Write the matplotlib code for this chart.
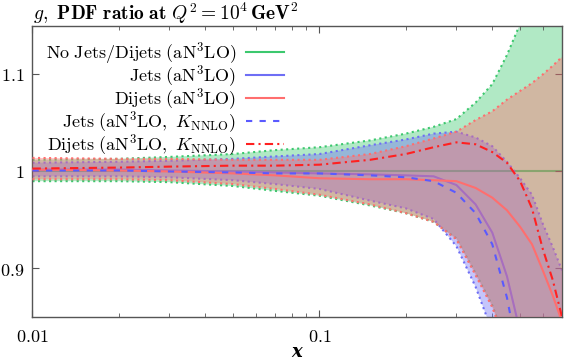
import matplotlib
matplotlib.use("Agg")
import matplotlib.pyplot as plt
from matplotlib.ticker import FixedLocator, NullFormatter

plt.rcParams['mathtext.fontset'] = 'cm'
plt.rcParams['font.size'] = 13

# x grid (log scale)
x = [0.01, 0.02, 0.03, 0.05, 0.07, 0.1, 0.15, 0.2, 0.25, 0.3, 0.35, 0.4,
     0.45, 0.5, 0.55, 0.6, 0.65, 0.7]

# No Jets/Dijets band (central = 1)
nojet_up = [1.012, 1.013, 1.015, 1.018, 1.022, 1.025, 1.032, 1.039, 1.046, 1.054,
            1.071, 1.090, 1.120, 1.152, 1.22, 1.30, 1.38, 1.45]
nojet_lo = [0.990, 0.990, 0.989, 0.985, 0.980, 0.975, 0.965, 0.957, 0.948, 0.931,
            0.895, 0.862, 0.822, 0.772, 0.72, 0.66, 0.60, 0.54]
nojet_c = [1.0] * len(x)

# Jets band
jets_up = [1.009, 1.010, 1.011, 1.013, 1.0155, 1.018, 1.027, 1.033, 1.039, 1.041,
           1.035, 1.026, 1.010, 0.993, 0.976, 0.946, 0.922, 0.898]
jets_lo = [0.995, 0.995, 0.994, 0.991, 0.987, 0.982, 0.970, 0.962, 0.951, 0.923,
           0.881, 0.835, 0.78, 0.72, 0.66, 0.60, 0.54, 0.48]
jets_c = [1.002, 1.002, 1.001, 1.000, 0.999, 0.998, 0.997, 0.996, 0.995, 0.986,
          0.966, 0.937, 0.892, 0.835, 0.77, 0.70, 0.63, 0.56]
jets_k = [1.001, 1.001, 1.000, 0.999, 0.998, 0.998, 0.996, 0.994, 0.990, 0.978,
          0.957, 0.925, 0.870, 0.80, 0.73, 0.66, 0.59, 0.52]

# Dijets band
dij_up = [1.014, 1.013, 1.013, 1.012, 1.012, 1.012, 1.018, 1.026, 1.034, 1.041,
          1.053, 1.062, 1.074, 1.083, 1.091, 1.100, 1.109, 1.118]
dij_lo = [0.992, 0.992, 0.991, 0.987, 0.982, 0.976, 0.966, 0.957, 0.948, 0.930,
          0.893, 0.860, 0.820, 0.770, 0.72, 0.66, 0.60, 0.54]
dij_c = [1.002, 1.001, 1.000, 0.998, 0.996, 0.993, 0.992, 0.992, 0.991, 0.990,
         0.983, 0.973, 0.960, 0.943, 0.925, 0.898, 0.872, 0.845]
dij_k = [1.003, 1.004, 1.005, 1.006, 1.006, 1.007, 1.012, 1.018, 1.025, 1.030,
         1.028, 1.020, 1.009, 0.990, 0.962, 0.920, 0.888, 0.850]

green = '#3cc86e'
blue = '#6e6ef5'
red = '#ff6e6e'

fig = plt.figure(figsize=(5.64, 3.6), dpi=100)
ax = fig.add_axes([0.0576, 0.1194, 0.9389, 0.8086])

ax.plot(x, nojet_c, color=green, lw=1.5, zorder=1)
ax.fill_between(x, nojet_lo, nojet_up, color=green, alpha=0.4, lw=0, zorder=1)
ax.plot(x, nojet_up, color=green, lw=1.5, ls=':', zorder=1)
ax.plot(x, nojet_lo, color=green, lw=1.5, ls=':', zorder=1)

ax.plot(x, jets_c, color=blue, lw=1.5, zorder=2)
ax.fill_between(x, jets_lo, jets_up, color=blue, alpha=0.4, lw=0, zorder=2)
ax.plot(x, jets_up, color=blue, lw=1.5, ls=':', zorder=2)
ax.plot(x, jets_lo, color=blue, lw=1.5, ls=':', zorder=2)

ax.fill_between(x, dij_lo, dij_up, color=red, alpha=0.4, lw=0, zorder=3)
ax.plot(x, dij_up, color=red, lw=1.5, ls=':', zorder=3)
ax.plot(x, dij_lo, color=red, lw=1.5, ls=':', zorder=3)
ax.plot(x, dij_c, color=red, lw=1.5, zorder=3)

ax.plot(x, jets_k, color='#5a5aff', lw=1.5, ls=(0, (3, 3.5)), zorder=4)
ax.plot(x, dij_k, color='#ff2020', lw=1.5, ls=(0, (4, 2, 1, 2)), zorder=4)

# legend handles
h1, = ax.plot([], [], color=green, lw=1.5)
h2, = ax.plot([], [], color=blue, lw=1.5)
h3, = ax.plot([], [], color=red, lw=1.5)
h4, = ax.plot([], [], color='#5a5aff', lw=1.5, ls=(0, (3, 3.5)))
h5, = ax.plot([], [], color='#ff2020', lw=1.5, ls=(0, (4, 2, 1, 2)))
labels = [r'$\mathrm{No\ Jets/Dijets\ (aN^3LO)}$',
          r'$\mathrm{Jets\ (aN^3LO)}$',
          r'$\mathrm{Dijets\ (aN^3LO)}$',
          r'$\mathrm{Jets\ (aN^3LO,\ }K_{\mathrm{NNLO}}\mathrm{)}$',
          r'$\mathrm{Dijets\ (aN^3LO,\ }K_{\mathrm{NNLO}}\mathrm{)}$']
ax.legend([h1, h2, h3, h4, h5], labels, loc='upper right',
          bbox_to_anchor=(0.475, 0.952), frameon=False, markerfirst=False,
          handlelength=2.1, handletextpad=0.55, labelspacing=-0.13,
          borderpad=0, borderaxespad=0, fontsize=13)

ax.set_xscale('log')
ax.set_xlim(0.01, 0.7)
ax.set_ylim(0.85, 1.15)
ax.xaxis.set_major_locator(FixedLocator([0.01, 0.1]))
ax.set_xticklabels([r'$0.01$', r'$0.1$'])
ax.xaxis.set_minor_locator(FixedLocator([0.02, 0.03, 0.04, 0.05, 0.06, 0.07, 0.08,
                                         0.09, 0.2, 0.3, 0.4, 0.5, 0.6, 0.7]))
ax.xaxis.set_minor_formatter(NullFormatter())
ax.set_yticks([0.9, 1.0, 1.1])
ax.set_yticklabels([r'$0.9$', r'$1$', r'$1.1$'])
ax.tick_params(which='both', direction='in', top=True, right=True,
               color='#555555', labelsize=13)
ax.tick_params(which='major', length=5)
ax.tick_params(axis='x', which='major', pad=8)
ax.tick_params(axis='y', which='major', pad=6)
ax.tick_params(which='minor', length=3)
for s in ax.spines.values():
    s.set_color('#555555')
    s.set_linewidth(1.0)

fig.text(33 / 564, 1 - 20 / 360,
         r'$\mathit{g}\mathbf{,\ PDF\ ratio\ at\ }\mathit{Q}^{\mathbf{2}}'
         r'\mathbf{=10^4\,GeV^2}$', ha='left', va='baseline', fontsize=14)
fig.text(297 / 564, 1 - 352 / 360, 'x', ha='center', va='center',
         fontstyle='italic', fontweight='bold', family='DejaVu Serif', fontsize=13)

fig.savefig('out.png', dpi=100)
